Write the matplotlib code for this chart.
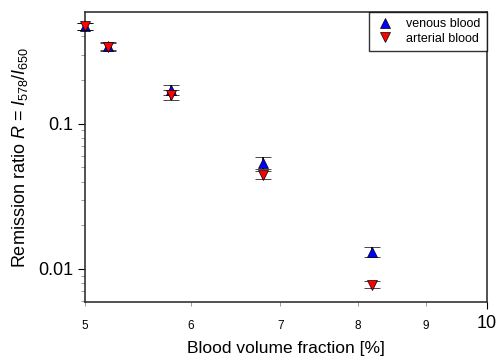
import numpy as np
import matplotlib
matplotlib.use("Agg")
import matplotlib.pyplot as plt
from matplotlib.ticker import FixedLocator, FixedFormatter, NullFormatter, LogLocator

plt.rcParams['font.family'] = ['Liberation Sans', 'DejaVu Sans']
plt.rcParams['mathtext.fontset'] = 'custom'
plt.rcParams['mathtext.rm'] = 'Liberation Sans'
plt.rcParams['mathtext.it'] = 'Liberation Sans:italic'

# data
blood_fraction = [5.0, 5.2, 5.8, 6.8, 8.2]
venous = [0.47, 0.345, 0.172, 0.054, 0.0131]
venous_err = [0.025, 0.022, 0.013, 0.005, 0.0011]
arterial = [0.47, 0.34, 0.158, 0.0445, 0.0078]
arterial_err = [0.025, 0.022, 0.013, 0.003, 0.0004]

fig = plt.figure(figsize=(4.98, 3.61), dpi=100)
ax = fig.add_axes([0.171, 0.163, 0.807, 0.804])

for vals, errs, mk, col, lab, z in [(venous, venous_err, '^', 'blue', 'venous blood', 3),
                                    (arterial, arterial_err, 'v', 'red', 'arterial blood', 4)]:
    cont = ax.errorbar(blood_fraction, vals, yerr=errs, fmt=mk, color=col,
                       markeredgecolor='black', markeredgewidth=0.5, markersize=7,
                       ecolor='black', elinewidth=1.2, capsize=5.5, capthick=1.5,
                       label=lab, zorder=z)
    for art in cont.get_children():
        art.set_clip_on(False)

ax.set_xscale('log')
ax.set_yscale('log')
ax.set_xlim(5, 10)
ax.set_ylim(0.0059, 0.59)

ax.xaxis.set_major_locator(FixedLocator([10]))
ax.xaxis.set_major_formatter(FixedFormatter(['10']))
ax.xaxis.set_minor_locator(FixedLocator([5, 6, 7, 8, 9]))
ax.xaxis.set_minor_formatter(FixedFormatter(['5', '6', '7', '8', '9']))
ax.tick_params(axis='x', which='minor', labelsize=8.5, length=3, pad=10, color='#888888')
ax.tick_params(axis='x', which='major', labelsize=13, length=5, pad=4)

ax.yaxis.set_major_locator(FixedLocator([0.01, 0.1]))
ax.yaxis.set_major_formatter(FixedFormatter(['0.01', '0.1']))
ax.yaxis.set_minor_locator(LogLocator(base=10, subs=np.arange(2, 10)))
ax.yaxis.set_minor_formatter(NullFormatter())
ax.tick_params(axis='y', which='major', labelsize=13, length=5)
ax.tick_params(axis='y', which='minor', length=3, color='#888888')

for s in ax.spines.values():
    s.set_linewidth(1.2)
    s.set_color('#333333')

ax.set_xlabel('Blood volume fraction [%]', fontsize=12.5, labelpad=6)
ax.set_ylabel(r'Remission ratio $R$ = $I_{578}/I_{650}$', fontsize=13, labelpad=6)

handles, labels = ax.get_legend_handles_labels()
handles = [h[0] for h in handles]
leg = ax.legend(handles, labels, loc='upper right', fontsize=9, frameon=True,
                fancybox=False, edgecolor='black', borderaxespad=0,
                handlelength=1.5, handletextpad=1.0, borderpad=0.5, labelspacing=0.2)
leg.get_frame().set_linewidth(1.0)

fig.savefig('out.png', dpi=100)
